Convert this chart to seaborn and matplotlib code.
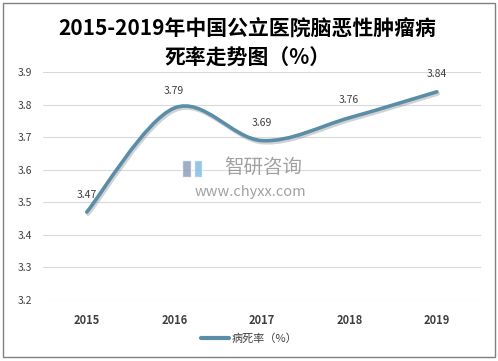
import numpy as np
import matplotlib
matplotlib.use('Agg')
import matplotlib.pyplot as plt
import matplotlib.patheffects as pe
from matplotlib.path import Path
from matplotlib.patches import PathPatch, Rectangle
from matplotlib.lines import Line2D
import seaborn as sns

# dados
anos = ['2015', '2016', '2017', '2018', '2019']
taxa = [3.47, 3.79, 3.69, 3.76, 3.84]
serie = '病死率（%）'
titulo = '2015-2019年中国公立医院脑恶性肿瘤病\n死率走势图（%）'

sns.set_style('white')
plt.rcParams['font.family'] = ['Noto Sans CJK SC', 'DejaVu Sans']

cor = '#5a8ea8'
fig = plt.figure(figsize=(4.98, 3.61), dpi=100)
ax = fig.add_axes([0.0863, 0.1695, 0.8787, 0.6302])

pos = np.arange(len(anos))
# linha base (invisível) só para montar os eixos pelo seaborn
sns.lineplot(x=pos, y=taxa, ax=ax, linewidth=0, legend=False)

# curva suavizada (estilo Excel): Bezier com pontos de controle a partir dos dados
pts = np.column_stack([pos, taxa]).astype(float)
verts = [tuple(pts[0])]
codes = [Path.MOVETO]
n = len(pts)
for i in range(n - 1):
    p0 = pts[max(i - 1, 0)]
    p1 = pts[i]
    p2 = pts[i + 1]
    p3 = pts[min(i + 2, n - 1)]
    c1 = p1 + (p2 - p0) / 6
    c2 = p2 - (p3 - p1) / 6
    verts += [tuple(c1), tuple(c2), tuple(p2)]
    codes += [Path.CURVE4] * 3
curva = PathPatch(Path(verts, codes), facecolor='none', edgecolor=cor, lw=2.6,
                  capstyle='round', zorder=3,
                  path_effects=[pe.SimpleLineShadow(offset=(1, -1.5), shadow_color='gray', alpha=0.35),
                                pe.Normal()])
ax.add_patch(curva)

for x, v in zip(pos, taxa):
    ax.annotate(f'{v:.2f}', (x, v), xytext=(0, 12.5), textcoords='offset points',
                ha='center', va='center', fontsize=7.5, color='#404040')

ax.set_xlim(-0.5, len(anos) - 0.5)
ax.set_ylim(3.2, 3.9)
ax.set_yticks(np.arange(3.2, 3.91, 0.1))
ax.set_yticklabels([f'{t:.1f}' for t in np.arange(3.2, 3.91, 0.1)], fontsize=7.5, color='#404040')
ax.set_xticks(pos)
ax.set_xticklabels(anos, fontsize=8, fontweight='bold', color='#404040')
ax.tick_params(axis='x', length=0, pad=10)
ax.tick_params(axis='y', length=0, pad=8)
ax.grid(axis='y', color='#d9d9d9', linewidth=0.8)
ax.set_axisbelow(True)
for s in ax.spines.values():
    s.set_visible(False)
ax.set_xlabel('')
ax.set_ylabel('')

fig.text(0.497, 0.879, titulo, ha='center', va='center', fontsize=15, fontweight='semibold',
         linespacing=1.45, color='black')

fig.legend(handles=[Line2D([0], [0], color=cor, lw=3)], labels=[serie], loc='center',
           bbox_to_anchor=(0.5, 0.061), frameon=False, fontsize=8, handlelength=2.6,
           handletextpad=0.2, labelcolor='#404040')

# marca d'água
fig.text(0.528, 0.535, '智研咨询', ha='center', va='center', fontsize=14, color='#8a8a8a', alpha=0.8)
fig.text(0.502, 0.468, 'www.chyxx.com', ha='center', va='center', fontsize=10.5, color='#8a8a8a', alpha=0.8)
fig.add_artist(Rectangle((182 / 498, 1 - 177 / 361), 9 / 498, 17 / 361, transform=fig.transFigure,
                         facecolor='#8c98b8', alpha=0.8))
fig.add_artist(Rectangle((194 / 498, 1 - 177 / 361), 8 / 498, 17 / 361, transform=fig.transFigure,
                         facecolor='#7fb8e0', alpha=0.8))

# borda da figura
fig.add_artist(Rectangle((3 / 498, 4 / 361), 492 / 498, 354 / 361, transform=fig.transFigure,
                         fill=False, edgecolor='#808080', lw=1))

fig.savefig('out.png', dpi=100)
